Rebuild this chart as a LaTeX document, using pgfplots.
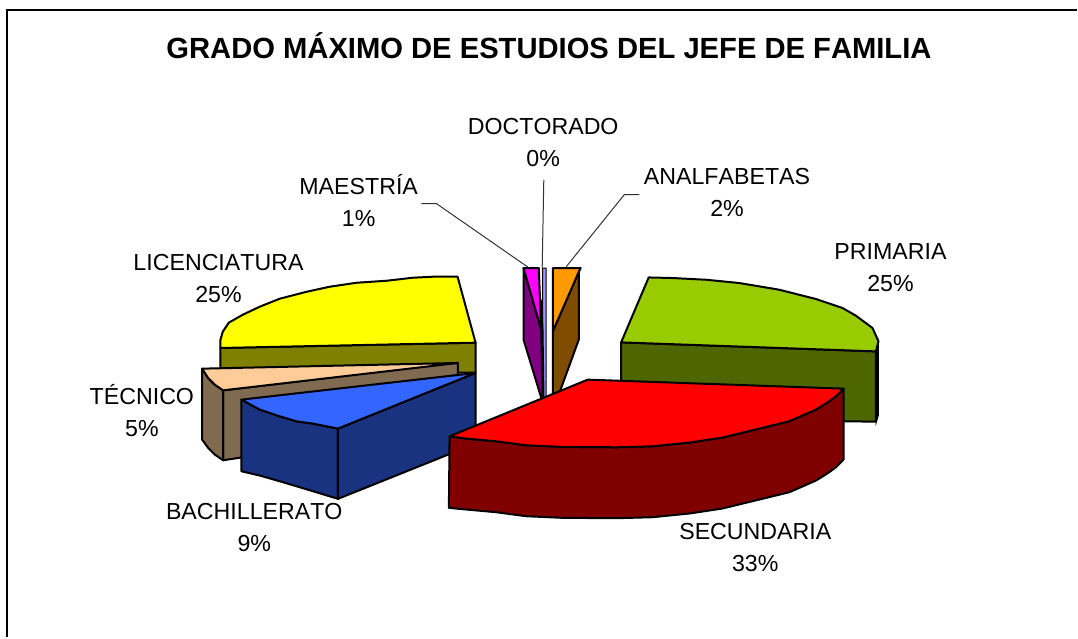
\documentclass[border=0pt]{standalone}
\usepackage{fontspec}
\setmainfont[Kerning=Off]{Liberation Sans}
\usepackage{pgfplots}
\pgfplotsset{compat=1.18}
\definecolor{cYel}{HTML}{FFFF00}
\definecolor{cOlive}{HTML}{808000}
\definecolor{cTan}{HTML}{FFCC99}
\definecolor{cTanD}{HTML}{806A50}
\definecolor{cBlue}{HTML}{3366FF}
\definecolor{cNavy}{HTML}{1A3380}
\definecolor{cRed}{HTML}{FF0000}
\definecolor{cMaroon}{HTML}{800000}
\definecolor{cGreen}{HTML}{99CC00}
\definecolor{cGreenD}{HTML}{4D6600}
\definecolor{cMag}{HTML}{FF00FF}
\definecolor{cPurp}{HTML}{800080}
\definecolor{cLav}{HTML}{9999FF}
\definecolor{cOrg}{HTML}{FF9900}
\definecolor{cBrown}{HTML}{804C00}
\tikzset{lab/.style={font=\fontsize{23.2}{32}\selectfont,align=center,text=black,inner sep=0pt,anchor=base}}
\pgfplotsset{slice/.style={draw=black,line width=2pt,line join=round}}
\begin{document}
\begin{tikzpicture}
\begin{axis}[scale only axis,width=1078pt,height=638pt,axis line style={draw=none},ticks=none,
    xmin=0,xmax=1078,ymin=0,ymax=638,y dir=reverse,clip=false]
% frame
\addplot[black,line width=2pt] coordinates {(7,638) (7,10) (1078,10)};
% licenciatura
\addplot[slice,fill=cOlive] coordinates {(220.7,348.3) (476,343) (476,373) (220.7,373)} --cycle;
\addplot[slice,fill=cYel] coordinates {(220.7,348.3) (220.7,340) (223,332) (229,323) (243,315) (260,307) (280,299) (307,292) (330,287) (357,283) (387,281) (413,278) (433,277) (458,277) (476,343)} --cycle;
% tecnico
\addplot[slice,fill=cTanD] coordinates {(223.3,390.7) (436.7,365) (458.3,363.3) (458.3,375.4) (241,458) (223.3,460.7)} --cycle;
\addplot[slice,fill=cTanD] coordinates {(202.3,369) (208.3,378.3) (215,385) (223.3,390.7) (223.3,460.7) (215,455) (208.3,448.3) (202.3,440)} --cycle;
\addplot[slice,fill=cTan] coordinates {(202.3,369) (458.3,363.3) (223.3,390.7) (215,385) (208.3,378.3)} --cycle;
% bachillerato
\addplot[slice,fill=cNavy] coordinates {(241.7,400) (260,410) (280,416.7) (296.7,421.7) (313.3,424) (338.3,429) (338.3,499.3) (313.3,491.7) (296.7,486.7) (280,481.7) (260,476) (241.7,471.7)} --cycle;
\addplot[slice,fill=cNavy] coordinates {(338.3,429) (476,373.3) (476,444) (338.3,499.3)} --cycle;
\addplot[slice,fill=cBlue] coordinates {(241.7,400) (476,373.3) (338.3,429) (313.3,424) (296.7,421.7) (280,416.7) (260,410)} --cycle;
% maestria
\addplot[slice,fill=cPurp] coordinates {(524,268.3) (541.7,330) (543.3,398.3) (541.7,398) (524,340)} --cycle;
\addplot[slice,fill=cMag] coordinates {(524,268.3) (539.3,268.3) (541.7,330)} --cycle;
% doctorado
\addplot[draw=black,line width=1pt,fill=cLav] coordinates {(543,268.3) (546.7,268.3) (546.7,398) (543.3,398)} --cycle;
\addplot[black,line width=2pt] coordinates {(541.7,300) (543,330) (544,398)};
% analfabetas
\addplot[slice,fill=cBrown] coordinates {(579.3,270) (579.3,340) (560,393) (553.3,398) (553.3,331.7) (581,268.3)} --cycle;
\addplot[slice,fill=cOrg] coordinates {(553.3,268.3) (581,268.3) (553.3,331.7)} --cycle;
% primaria
\addplot[draw=black,line width=1pt,fill=black] coordinates {(876.7,351.7) (879.3,341.7) (879.3,415) (877,423)} --cycle;
\addplot[slice,fill=cGreenD] coordinates {(621.7,342.7) (876.7,351.7) (876.7,422) (621.7,420)} --cycle;
\addplot[slice,fill=cGreen] coordinates {(649.3,277.7) (673.3,278.3) (706.7,280) (740,283.3) (780,290) (816.7,299.3) (843.3,308.3) (856.7,316) (873.3,328.3) (879.3,341.7) (876.7,351.7) (621.7,342.7)} --cycle;
% secundaria
\addplot[slice,fill=cMaroon] coordinates {(450,436.7) (466.7,439) (496.7,441.7) (526.7,445.7) (563,447.3) (616.7,447.7) (653,446.7) (690,443) (723,438) (760,429) (790,421.7) (816.7,410) (828,403) (836.7,396.7) (844.3,389) (844.3,460) (836.7,467.7) (828,474) (816.7,481) (790,492.7) (760,500) (723,509) (690,514) (653,517.7) (616.7,518.7) (563,518.3) (526.7,516.7) (496.7,512.7) (466.7,510) (449.3,508.3)} --cycle;
\addplot[slice,fill=cRed] coordinates {(588.3,380) (844.3,389) (836.7,396.7) (828,403) (816.7,410) (790,421.7) (760,429) (723,438) (690,443) (653,446.7) (616.7,447.7) (563,447.3) (526.7,445.7) (496.7,441.7) (466.7,439) (450,436.7)} --cycle;
% leaders
\addplot[black!80,line width=1pt] coordinates {(544.3,180) (542.7,268)};
\addplot[black!80,line width=1pt] coordinates {(421.7,203.7) (436.7,203.7) (528.3,267.3)};
\addplot[black!80,line width=1pt] coordinates {(640,194.7) (625,194.7) (566.7,267)};
% labels (anchor=base sits on the last line)
\node[lab,font=\fontsize{29.2}{32}\selectfont\bfseries] at (axis cs:549.5,59) {GRADO MÁXIMO DE ESTUDIOS DEL JEFE DE FAMILIA};
\node[lab] at (axis cs:543.7,167) {DOCTORADO\\0\%};
\node[lab] at (axis cs:359,227) {MAESTRÍA\\1\%};
\node[lab] at (axis cs:727.7,217) {ANALFABETAS\\2\%};
\node[lab] at (axis cs:891.3,292) {PRIMARIA\\25\%};
\node[lab] at (axis cs:218.7,302.7) {LICENCIATURA\\25\%};
\node[lab] at (axis cs:142,436.5) {TÉCNICO\\5\%};
\node[lab] at (axis cs:254.5,552) {BACHILLERATO\\9\%};
\node[lab] at (axis cs:756,572) {SECUNDARIA\\33\%};
\end{axis}
\end{tikzpicture}
\end{document}
